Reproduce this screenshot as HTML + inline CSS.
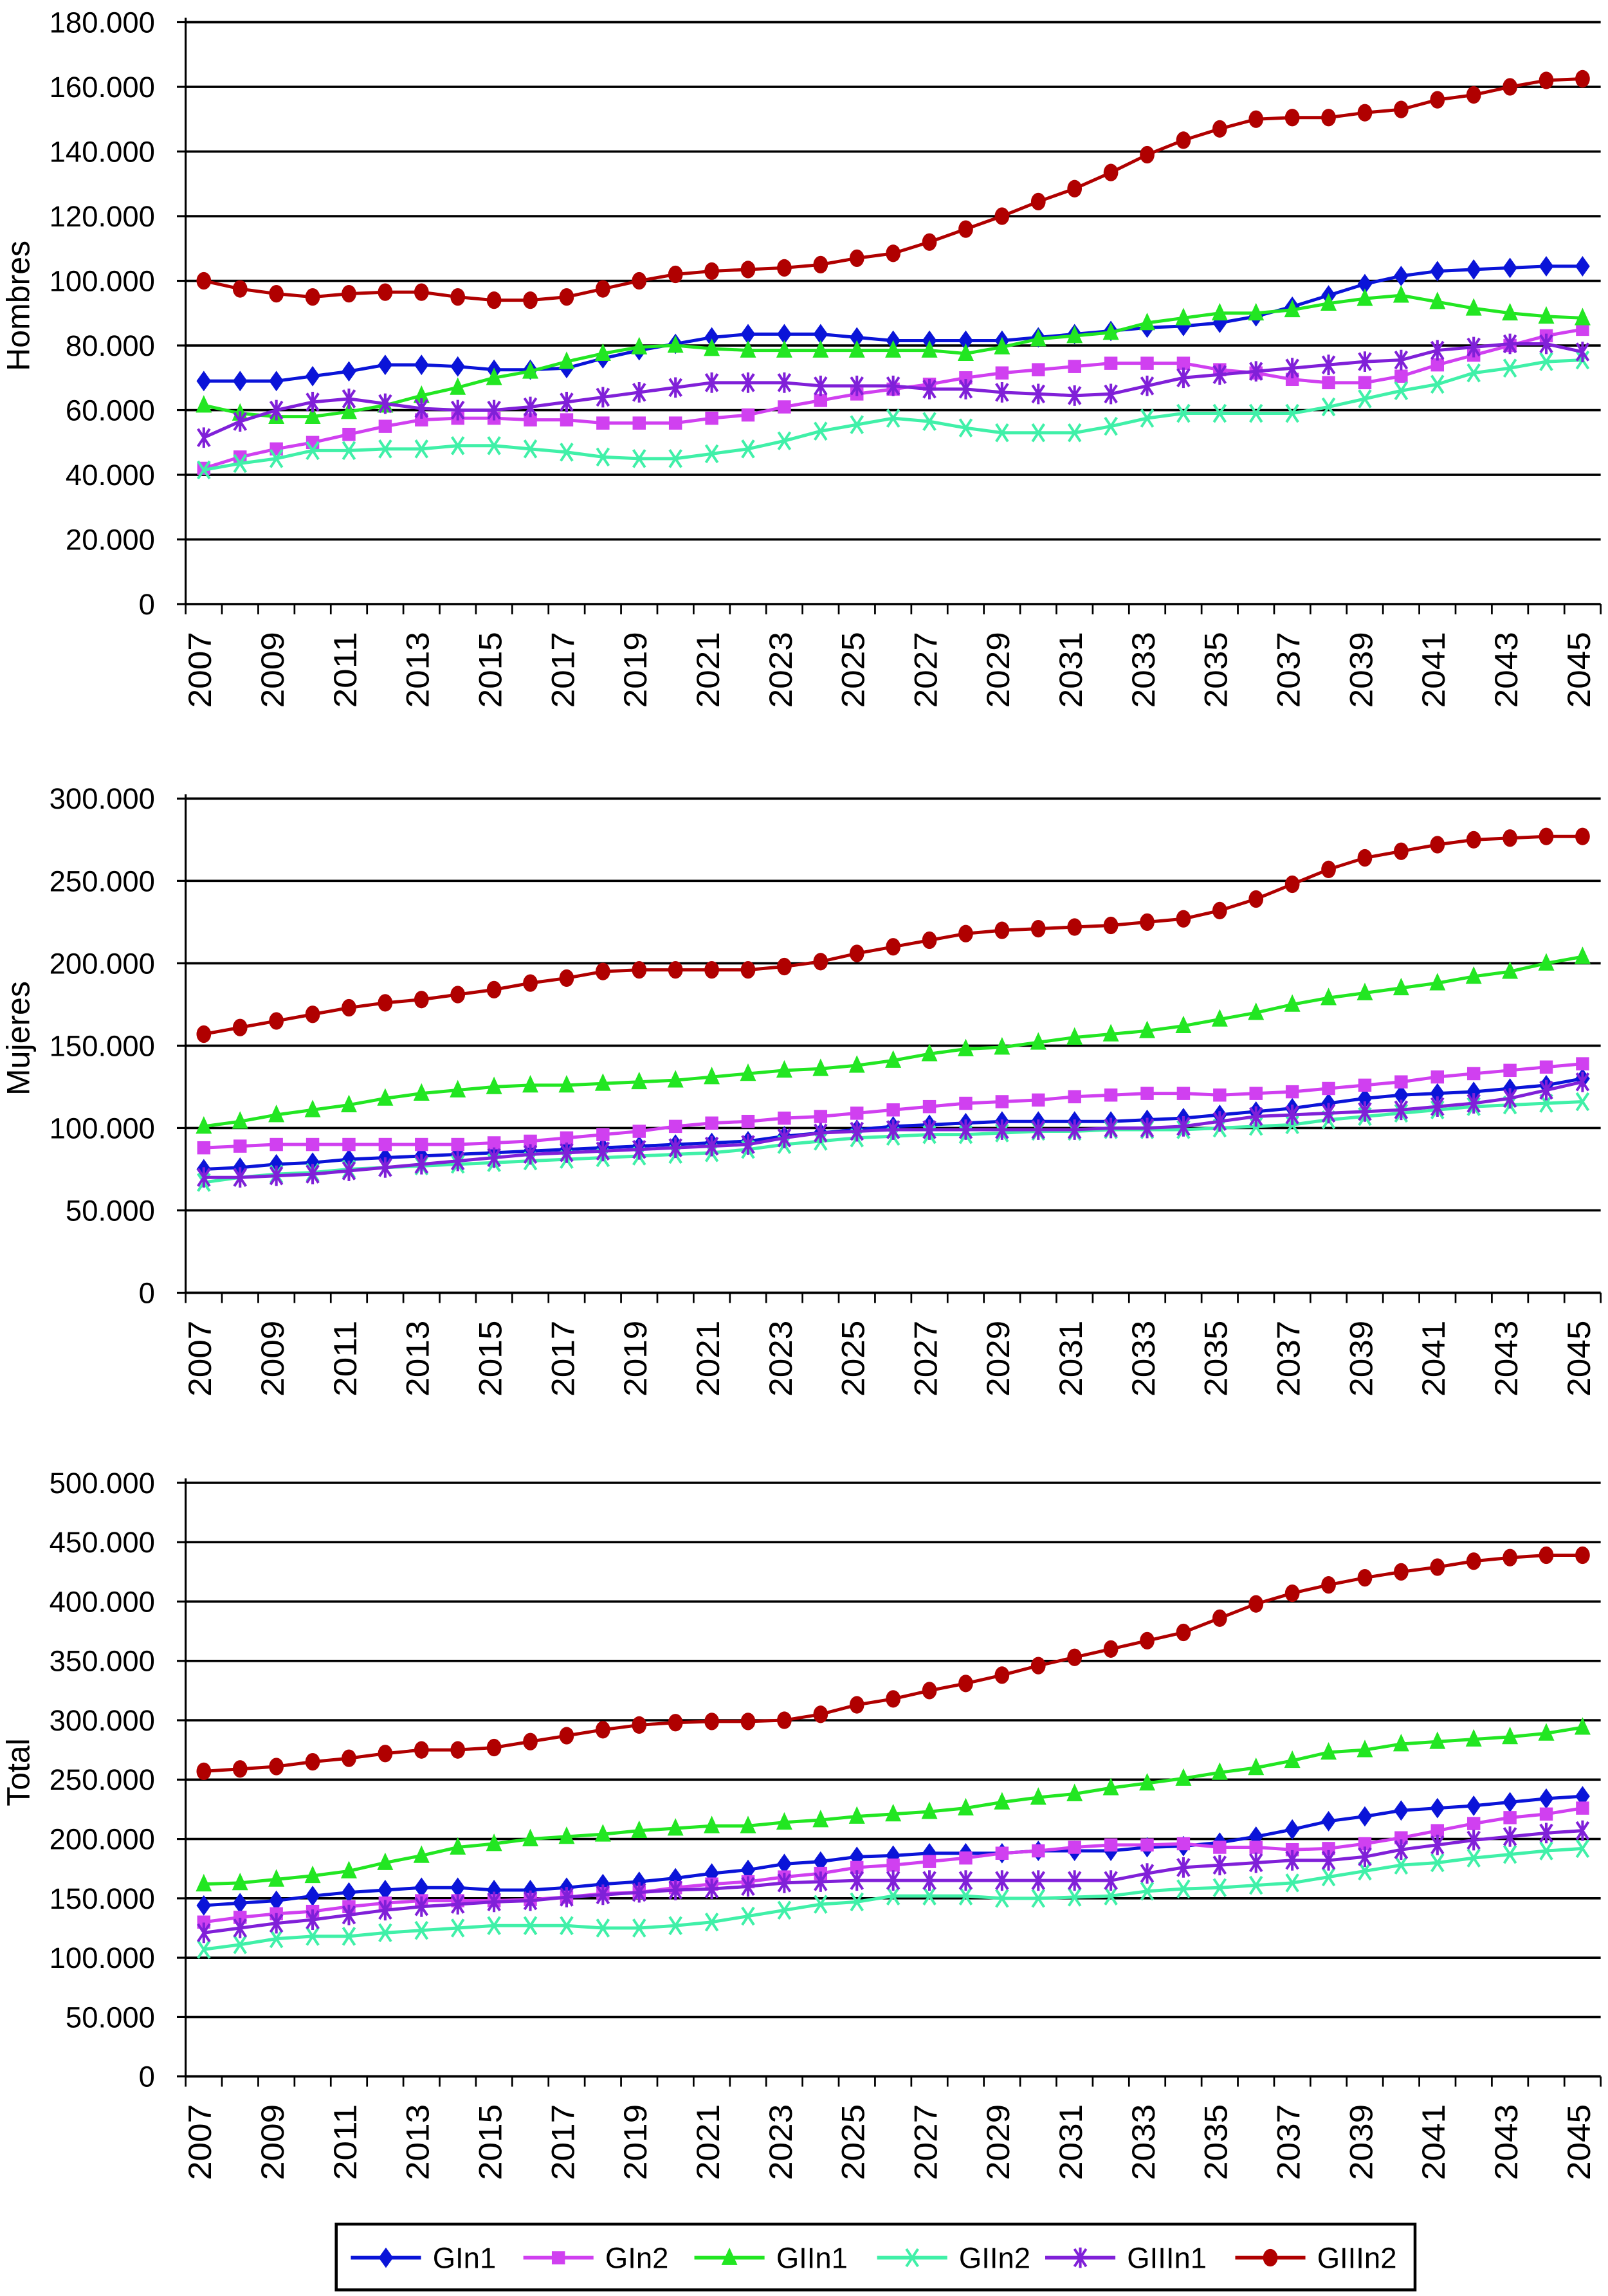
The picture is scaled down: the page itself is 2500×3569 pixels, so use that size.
<!DOCTYPE html>
<html><head><meta charset="utf-8"><style>
html,body{margin:0;padding:0;background:#fff;}
svg{display:block;}
text{font-family:"Liberation Sans",sans-serif;fill:#000;}
</style></head><body>
<svg id="chart" width="2500" height="3569" viewBox="0 0 1100 1570" xmlns="http://www.w3.org/2000/svg">
<g id="root"></g>
<g>
<rect x="230" y="1521" width="738" height="45" fill="#fff" stroke="#000" stroke-width="2"/>
<g id="legendItems"></g>
</g>
</svg>
<script>
const years = [];
for (let y = 2007; y <= 2045; y++) years.push(y);
const seriesNames = ["GIn1","GIn2","GIIn1","GIIn2","GIIIn1","GIIIn2"];
// Hombres (thousands)
const hGIn1 = [69,69,69,70.5,72,74,74,73.5,72.5,72.5,73,76,78.5,80.5,82.5,83.5,83.5,83.5,82.5,81.5,81.5,81.5,81.5,82.5,83.5,84.5,85.5,86,87,89,92,95.5,99,101.5,103,103.5,104,104.5,104.5];
const hGIn2 = [42,45.5,48,50,52.5,55,57,57.5,57.5,57,57,56,56,56,57.5,58.5,61,63,65,66.5,68,70,71.5,72.5,73.5,74.5,74.5,74.5,72.5,71.5,69.5,68.5,68.5,70.5,74,77,80,83,85];
const hGIIn1 = [61.5,59,58,58,59.5,61.5,64.5,67,70,72,75,77.5,79.5,80,79,78.5,78.5,78.5,78.5,78.5,78.5,77.5,79.5,82,83,84,87,88.5,90,90,91,93,94.5,95.5,93.5,91.5,90,89,88.5];
const hGIIn2 = [41.5,43.5,45,47.5,47.5,48,48,49,49,48,47,45.5,45,45,46.5,48,50.5,53.5,55.5,57.5,56.5,54.5,53,53,53,55,57.5,59,59,59,59,61,63.5,66,68,71.5,73,75,75.5];
const hGIIIn1 = [51.5,56.5,60,62.5,63.5,62,60.5,60,60,61,62.5,64,65.5,67,68.5,68.5,68.5,67.5,67.5,67.5,66.5,66.5,65.5,65,64.5,65,67.5,70,71,72,73,74,75,75.5,78.5,79.5,80.5,80.5,78];
const hGIIIn2 = [100,97.5,96,95,96,96.5,96.5,95,94,94,95,97.5,100,102,103,103.5,104,105,107,108.5,112,116,120,124.5,128.5,133.5,139,143.5,147,150,150.5,150.5,152,153,156,157.5,160,162,162.5];
// Mujeres
const mGIn1 = [75,76,78,79,81,82,83,84,85,86,87,88,89,90,91,92,95,97,99,101,102,103,104,104,104,104,105,106,108,110,112,115,118,120,121,122,124,126,130];
const mGIn2 = [88,89,90,90,90,90,90,90,91,92,94,96,98,101,103,104,106,107,109,111,113,115,116,117,119,120,121,121,120,121,122,124,126,128,131,133,135,137,139];
const mGIIn1 = [101,104,108,111,114,118,121,123,125,126,126,127,128,129,131,133,135,136,138,141,145,148,149,152,155,157,159,162,166,170,175,179,182,185,188,192,195,200,204];
const mGIIn2 = [67,70,72,73,75,76,77,78,79,80,81,82,83,84,85,87,90,92,94,95,96,96,97,98,98,99,99,99,100,101,102,105,107,109,111,113,114,115,116];
const mGIIIn1 = [70,70,71,72,74,76,78,80,82,84,85,86,87,88,89,90,94,97,98,99,99,99,99,99,99,100,100,101,104,107,108,109,110,111,113,115,118,123,128];
const mGIIIn2 = [157,161,165,169,173,176,178,181,184,188,191,195,196,196,196,196,198,201,206,210,214,218,220,221,222,223,225,227,232,239,248,257,264,268,272,275,276,277,277];
// Total
const tGIn1 = [144,146,148,152,155,157,159,159,157,157,159,162,164,167,171,174,179,181,185,186,188,188,188,190,190,190,193,194,197,202,208,215,219,224,226,228,231,234,236];
const tGIn2 = [130,134,137,139,143,146,148,148,148,149,151,154,155,159,162,164,168,171,176,178,181,184,188,190,193,195,195,196,193,193,191,192,196,201,207,213,218,221,226];
const tGIIn1 = [162,163,166,169,173,180,186,193,196,200,202,204,207,209,211,211,214,216,219,221,223,226,231,235,238,243,247,251,256,260,266,273,275,280,282,284,286,289,294];
const tGIIn2 = [107,111,116,118,118,121,123,125,127,127,127,125,125,127,130,135,140,145,147,152,152,152,150,150,151,152,156,158,159,161,163,168,173,178,180,184,187,190,192];
const tGIIIn1 = [121,125,129,132,136,140,143,145,147,148,151,153,155,157,158,160,163,164,165,165,165,165,165,165,165,165,171,176,178,180,182,182,185,191,195,199,202,205,207];
const tGIIIn2 = [257,259,261,265,268,272,275,275,277,282,287,292,296,298,299,299,300,305,313,318,325,331,338,346,353,360,367,374,386,398,407,414,420,425,429,434,437,439,439];
const hTicks = [0,20,40,60,80,100,120,140,160,180];
const mTicks = [0,50,100,150,200,250,300];
const tTicks = [0,50,100,150,200,250,300,350,400,450,500];

const NS = "http://www.w3.org/2000/svg";
const colors = ["#0a14d8","#d040f0","#22e622","#40f0a8","#8020d8","#b00000"];
const markers = ["diamond","square","triangle","x","star","circle"];
const root = document.getElementById("root");
function mk(tag, attrs, parent) {
  const e = document.createElementNS(NS, tag);
  for (const k in attrs) e.setAttribute(k, attrs[k]);
  parent.appendChild(e);
  return e;
}
function marker(g, type, x, y, c) {
  let m;
  if (type === "diamond") m = mk("polygon", {points:`${x},${y-7} ${x+5},${y} ${x},${y+7} ${x-5},${y}`, fill:c}, g);
  else if (type === "square") m = mk("rect", {x:x-4.5, y:y-4.5, width:9, height:9, fill:c}, g);
  else if (type === "triangle") m = mk("polygon", {points:`${x},${y-7} ${x+5.5},${y+5} ${x-5.5},${y+5}`, fill:c}, g);
  else if (type === "circle") m = mk("ellipse", {cx:x, cy:y, rx:5, ry:6, fill:c}, g);
  else if (type === "x") m = mk("path", {d:`M${x-4},${y-6}L${x+4},${y+6}M${x+4},${y-6}L${x-4},${y+6}`, stroke:c, "stroke-width":1.8, fill:"none"}, g);
  else m = mk("path", {d:`M${x-4},${y-6}L${x+4},${y+6}M${x+4},${y-6}L${x-4},${y+6}M${x},${y-7}L${x},${y+7}`, stroke:c, "stroke-width":1.8, fill:"none"}, g);
  
  
}
function drawChart(name, title, top, bottom, ticks, series) {
  const L = 127, R = 1095, maxV = ticks[ticks.length-1];
  const g = mk("g", {}, root);
  
  
  const yS = v => bottom - (v / maxV) * (bottom - top);
  const cw = (R - L) / years.length;
  const xS = i => L + cw/2 + i*cw;
  ticks.forEach(t => {
    const y = yS(t);
    const gl = mk("line", {x1:L, x2:R, y1:y, y2:y, stroke:"#000", "stroke-width":1.6}, g);
    
    
    mk("line", {x1:L-6, x2:L, y1:y, y2:y, stroke:"#000", "stroke-width":1.4}, g);
    const tl = mk("text", {x:106, y:y+7, "text-anchor":"end", "font-size":20}, g);
    tl.textContent = t === 0 ? "0" : t + ".000";
    
    
  });
  mk("line", {x1:L, x2:L, y1:top-3, y2:bottom, stroke:"#000", "stroke-width":1.4}, g);
  for (let i = 0; i <= years.length; i++) {
    const x = L + i*cw;
    mk("line", {x1:x, x2:x, y1:bottom, y2:bottom+7, stroke:"#000", "stroke-width":1.2}, g);
  }
  years.forEach((yr, i) => {
    if (i % 2) return;
    const x = xS(i) + 5;
    const t = mk("text", {x:0, y:0, "text-anchor":"end", "font-size":22, textLength:52, lengthAdjust:"spacingAndGlyphs", transform:`translate(${x},${bottom+19}) rotate(-90)`}, g);
    t.textContent = yr;
    
    
  });
  const at = mk("text", {x:0, y:0, "text-anchor":"middle", "font-size":22, transform:`translate(20,${(top+bottom)/2 - 5}) rotate(-90)`}, g);
  at.textContent = title;
  
  
  series.forEach((vals, s) => {
    const sg = mk("g", {}, g);
    
    
    const pts = vals.map((v, i) => `${xS(i)},${yS(v)}`).join(" ");
    mk("polyline", {points:pts, fill:"none", stroke:colors[s], "stroke-width":2.2}, sg);
    vals.forEach((v, i) => marker(sg, markers[s], xS(i), yS(v), colors[s]));
  });
}
drawChart("hombres-chart", "Hombres", 15, 413, hTicks, [hGIn1,hGIn2,hGIIn1,hGIIn2,hGIIIn1,hGIIIn2]);
drawChart("mujeres-chart", "Mujeres", 546, 884, mTicks, [mGIn1,mGIn2,mGIIn1,mGIIn2,mGIIIn1,mGIIIn2]);
drawChart("total-chart", "Total", 1014, 1420, tTicks, [tGIn1,tGIn2,tGIIn1,tGIIn2,tGIIIn1,tGIIIn2]);

const legendX = [240, 358, 475, 600, 715, 845];
const lg = document.getElementById("legendItems");
seriesNames.forEach((n, s) => {
  const g = mk("g", {}, lg);
  
  
  const x = legendX[s];
  mk("line", {x1:x, x2:x+48, y1:1544, y2:1544, stroke:colors[s], "stroke-width":2.5}, g);
  marker(g, markers[s], x+24, 1544, colors[s]);
  const t = mk("text", {x:x+56, y:1551, "font-size":20}, g);
  t.textContent = n;
});
</script>
</body></html>
